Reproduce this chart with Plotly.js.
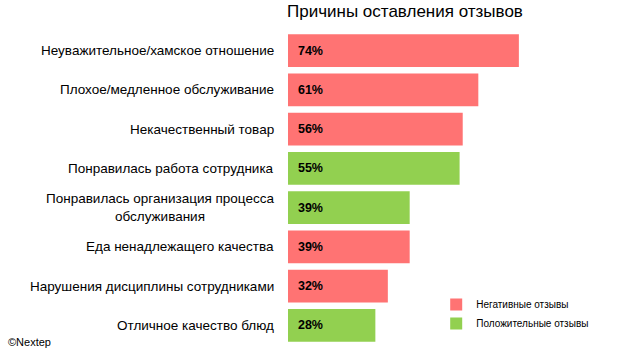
<!DOCTYPE html>
<html><head><meta charset="utf-8">
<script src="https://cdn.plot.ly/plotly-3.0.1.min.js"></script>
<style>body{margin:0;background:#fff}</style>
</head><body>
<div id="chart" style="width:639px;height:357px"></div>
<script>
const categories = [
  "Неуважительное/хамское отношение",
  "Плохое/медленное обслуживание",
  "Некачественный товар",
  "Понравилась работа сотрудника",
  "Понравилась организация процесса<br>обслуживания",
  "Еда ненадлежащего качества",
  "Нарушения дисциплины сотрудниками",
  "Отличное качество блюд"
];
const values = [74, 61, 56, 55, 39, 39, 32, 28];
const types = ["neg", "neg", "neg", "pos", "pos", "neg", "neg", "pos"];
const seriesNames = {neg: "Негативные отзывы", pos: "Положительные отзывы"};
const colors = {neg: "#FF7373", pos: "#92D050"};

const ids = categories.map((c, i) => "c" + i);
function trace(kind) {
  const y = [], x = [], t = [];
  ids.forEach((id, i) => { if (types[i] === kind) { y.push(id); x.push(values[i]); t.push("\u00a0\u00a0<b>" + values[i] + "%</b>"); } });
  return {
    type: "bar", orientation: "h", name: seriesNames[kind], x: x, y: y,
    text: t, textposition: "inside", insidetextanchor: "start", texttemplate: "%{text}",
    textfont: {family: "Liberation Sans, Arial, sans-serif", size: 12.5, color: "#000"},
    marker: {color: colors[kind]}, hoverinfo: "none", cliponaxis: false
  };
}
const data = [trace("neg"), trace("pos")];

const annotations = categories.map((c, i) => ({
  xref: "paper", yref: "y", x: -0.04, y: ids[i], xanchor: "right", yanchor: "middle",
  text: c, showarrow: false, align: "center",
  font: {family: "Liberation Sans, Arial, sans-serif", size: 13.5, color: "#000"}
}));
annotations.push({
  xref: "paper", yref: "paper", x: -0.905, y: 0.01, xanchor: "left", yanchor: "middle",
  text: "©Nextep", showarrow: false,
  font: {family: "Liberation Sans, Arial, sans-serif", size: 11, color: "#000"}
});

const layout = {
  width: 639, height: 357,
  margin: {l: 288, r: 39, t: 31, b: 12},
  paper_bgcolor: "#fff", plot_bgcolor: "#fff",
  title: {text: "Причины оставления отзывов", x: 287/639, xanchor: "left", y: 0.97, yanchor: "middle",
    font: {family: "Liberation Sans, Arial, sans-serif", size: 17, color: "#000"}},
  barmode: "overlay", bargap: 0.16,
  xaxis: {range: [0, 100], visible: false, fixedrange: true},
  yaxis: {categoryorder: "array", categoryarray: ids.slice().reverse(), showticklabels: false,
    showgrid: false, zeroline: false, showline: false, ticks: "", fixedrange: true},
  showlegend: true,
  legend: {x: 0.475, y: 0.175, xanchor: "left", yanchor: "top", bgcolor: "rgba(0,0,0,0)",
    font: {family: "Liberation Sans, Arial, sans-serif", size: 10, color: "#000"},
    itemwidth: 30, tracegroupgap: 0},
  annotations: annotations
};
Plotly.newPlot("chart", data, layout, {displayModeBar: false, staticPlot: true});
</script>
</body></html>
